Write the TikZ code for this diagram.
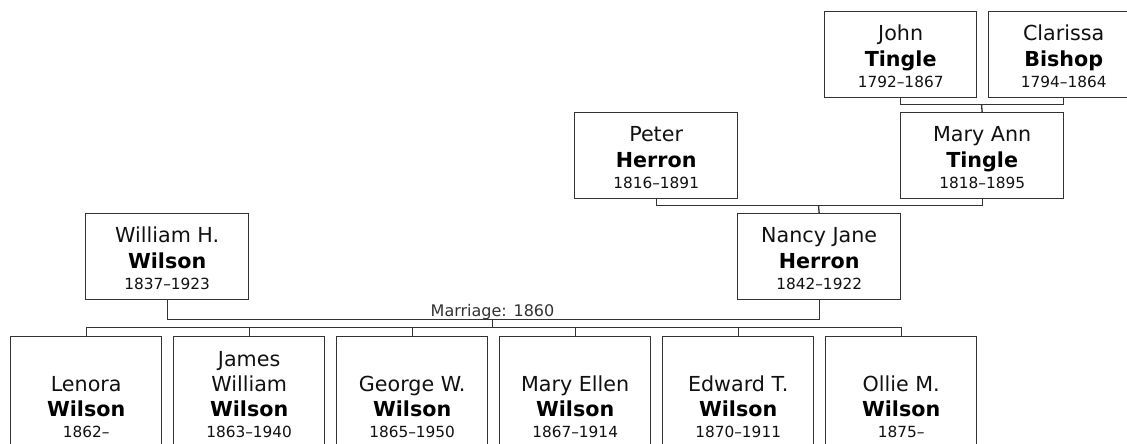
\documentclass[tikz,border=0pt]{standalone}
\usepackage{fontspec}
\setmainfont{DejaVu Sans}
\usetikzlibrary{calc}
\definecolor{boxline}{HTML}{333333}
\definecolor{inkc}{HTML}{111111}
\tikzset{
  pbox/.style={draw=boxline, line width=1pt, fill=white, inner sep=0pt, anchor=north west},
  given/.style={font=\fontsize{15.5}{18}\selectfont, anchor=base, inner sep=0pt, text=inkc},
  surname/.style={font=\fontsize{15.5}{18}\selectfont\bfseries, anchor=base, inner sep=0pt, text=black},
  years/.style={font=\fontsize{11.5}{14}\selectfont, anchor=base, inner sep=0pt, text=inkc},
  marr/.style={font=\fontsize{12}{14}\selectfont, anchor=base, inner sep=0pt, text=boxline},
  link/.style={draw=boxline, line width=1pt},
}
\newcommand\personbox[7]{%
  \node[pbox, minimum width=#4*0.75pt, minimum height=64.5pt] (#1) at (#2,#3) {};
  \node[given]   (#1-g) at ($(#1.north)+(0,29)$) {#5};
  \node[surname] (#1-s) at ($(#1.north)+(0,55)$) {#6};
  \node[years]   (#1-y) at ($(#1.north)+(0,76)$) {#7};
}
\newcommand\childbox[5]{%
  \node[pbox, minimum width=113.25pt, minimum height=105pt] (#1) at (#2,336) {};
  \node[given]   (#1-g) at ($(#1.north)+(0,55)$) {#3};
  \node[surname] (#1-s) at ($(#1.north)+(0,80)$) {#4};
  \node[years]   (#1-y) at ($(#1.north)+(0,101)$) {#5};
}
\begin{document}
\begin{tikzpicture}[x=0.75pt, y=-0.75pt]
\clip (0,0) rectangle (1127,443);
\fill[white] (0,0) rectangle (1127,443);

% grandparents of Nancy
\personbox{john}{824}{11}{152}{John}{Tingle}{1792–1867}
\personbox{clarissa}{988}{11}{150}{Clarissa}{Bishop}{1794–1864}
% parents of Nancy
\personbox{peter}{574}{112}{163}{Peter}{Herron}{1816–1891}
\personbox{maryann}{900}{112}{163}{Mary Ann}{Tingle}{1818–1895}
% couple
\personbox{william}{85}{213}{163}{William H.}{Wilson}{1837–1923}
\personbox{nancy}{737}{213}{163}{Nancy Jane}{Herron}{1842–1922}
% children
\childbox{lenora}{10}{Lenora}{Wilson}{1862–}
\childbox{james}{173}{William}{Wilson}{1863–1940}
\node[given] (james-f) at ($(james.north)+(0,30)$) {James};
\childbox{george}{336}{George W.}{Wilson}{1865–1950}
\childbox{maryellen}{499}{Mary Ellen}{Wilson}{1867–1914}
\childbox{edward}{662}{Edward T.}{Wilson}{1870–1911}
\childbox{ollie}{825}{Ollie M.}{Wilson}{1875–}

% connectors
\coordinate (jc) at (981.5,104.5);
\draw[link] (john.south) |- (jc) -| (clarissa.south);
\draw[link] (jc) -- (maryann.north);

\coordinate (pm) at (818.5,205.5);
\draw[link] (peter.south) |- (pm) -| (maryann.south);
\draw[link] (pm) -- (nancy.north);

\coordinate (mj) at (492.5,319.5);
\coordinate (sb) at (492.5,327.5);
\draw[link] (william.south) |- (mj) -| (nancy.south);
\draw[link] (mj) -- (sb);
\node[marr] (marriage) at ($(mj)+(0,-3.5)$) {Marriage: 1860};
\draw[link] (lenora.north) |- (sb) -| (ollie.north);
\draw[link] (james.north) -- (james.north |- sb);
\draw[link] (george.north) -- (george.north |- sb);
\draw[link] (maryellen.north) -- (maryellen.north |- sb);
\draw[link] (edward.north) -- (edward.north |- sb);
\end{tikzpicture}
\end{document}
